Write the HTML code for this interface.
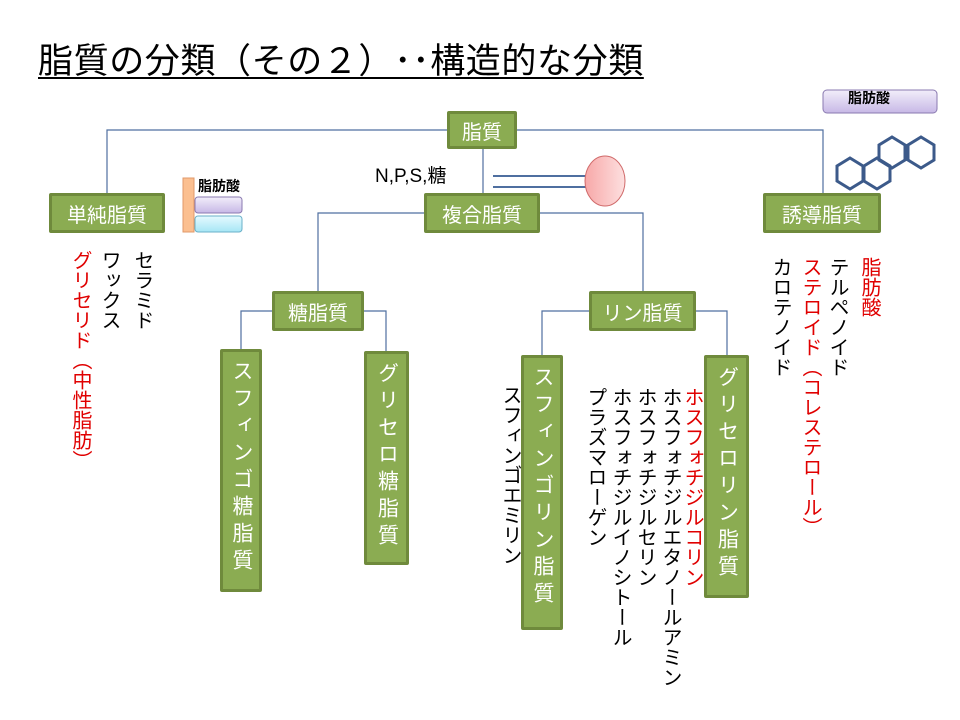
<!DOCTYPE html>
<html><head><meta charset="utf-8"><style>
body{margin:0;width:960px;height:720px;background:#fff;position:relative;overflow:hidden;font-family:"Liberation Sans","Noto Sans CJK JP",sans-serif}
.a{position:absolute}
.box{position:absolute;background:#8bac52;border:3px solid #6f8a3c;box-sizing:border-box;color:#fff;font-size:20px;display:flex;align-items:center;justify-content:center;border-radius:2px}
.vb{writing-mode:vertical-rl;letter-spacing:6px;font-size:21px;justify-content:flex-start;padding-top:8px}
.v{position:absolute;writing-mode:vertical-rl;font-size:20px;line-height:20px;width:24px;color:#000;white-space:nowrap}
.r{color:#e00000}
</style></head><body>
<div class="a" style="left:38px;top:33px;font-size:35px;letter-spacing:0.6px;text-decoration:underline;text-decoration-thickness:2px;text-underline-offset:4px;white-space:nowrap">脂質の分類（その２）･･構造的な分類</div>
<svg class="a" style="left:0;top:0" width="960" height="720">
<g stroke="#4f6fa0" stroke-width="1.2" fill="none">
<polyline points="107,193 107,130 823,130 823,193"/>
<line x1="483" y1="149" x2="483" y2="193"/>
<polyline points="424,213 318,213 318,291"/>
<polyline points="540,213 643,213 643,291"/>
<polyline points="272,311 241,311 241,349"/>
<polyline points="364,311 386,311 386,351"/>
<polyline points="589,311 542,311 542,355"/>
<polyline points="696,311 727,311 727,355"/>
</g>
<line x1="493" y1="176" x2="590" y2="176" stroke="#4f6fa0" stroke-width="2"/>
<line x1="493" y1="187" x2="590" y2="187" stroke="#4f6fa0" stroke-width="2"/>
<defs><linearGradient id="p" x1="0" x2="1"><stop offset="0" stop-color="#f7a8a8"/><stop offset="1" stop-color="#fde0e0"/></linearGradient>
<linearGradient id="pu" x1="0" y1="0" x2="0" y2="1"><stop offset="0" stop-color="#f2eefa"/><stop offset="1" stop-color="#c7b8e6"/></linearGradient>
<linearGradient id="cy" x1="0" y1="0" x2="0" y2="1"><stop offset="0" stop-color="#e6faff"/><stop offset="1" stop-color="#a6e6f5"/></linearGradient></defs>
<ellipse cx="605" cy="181" rx="20" ry="25" fill="url(#p)" stroke="#d06a6a" stroke-width="1"/>
<rect x="183" y="178" width="11" height="54" fill="#fbbf90" stroke="#e09a6a"/>
<rect x="195" y="197" width="47" height="16" rx="3" fill="url(#pu)" stroke="#8a7ab0"/>
<rect x="195" y="216" width="47" height="16" rx="3" fill="url(#cy)" stroke="#6ab0c8"/>
<rect x="823" y="90" width="114" height="23" rx="4" fill="url(#pu)" stroke="#8a7ab0"/>
<g stroke="#3c5a8a" stroke-width="3" fill="none">
<polygon points="850,158 863,166 863,181 850,189 837,181 837,166"/>
<polygon points="877,158 890,166 890,181 877,189 864,181 864,166"/>
<polygon points="892,137 905,145 905,160 892,168 879,160 879,145"/>
<polygon points="921,137 934,145 934,160 921,168 908,160 908,145"/>
</g>
</svg>
<div class="a" style="left:198px;top:176px;font-size:14px;font-weight:bold">脂肪酸</div>
<div class="a" style="left:848px;top:88px;font-size:14px;font-weight:bold">脂肪酸</div>
<div class="a" style="left:375px;top:161px;font-size:19px">N,P,S,糖</div>
<div class="box" style="left:447px;top:111px;width:70px;height:38px">脂質</div>
<div class="box" style="left:49px;top:193px;width:116px;height:40px">単純脂質</div>
<div class="box" style="left:424px;top:193px;width:116px;height:40px">複合脂質</div>
<div class="box" style="left:763px;top:193px;width:118px;height:40px">誘導脂質</div>
<div class="box" style="left:272px;top:291px;width:92px;height:40px">糖脂質</div>
<div class="box" style="left:589px;top:291px;width:107px;height:40px">リン脂質</div>
<div class="box vb" style="left:220px;top:349px;width:42px;height:243px">スフィンゴ糖脂質</div>
<div class="box vb" style="left:364px;top:351px;width:45px;height:214px">グリセロ糖脂質</div>
<div class="box vb" style="left:521px;top:355px;width:42px;height:275px">スフィンゴリン脂質</div>
<div class="box vb" style="left:704px;top:355px;width:45px;height:243px">グリセロリン脂質</div>
<div class="v" style="left:128px;top:250px">セラミド</div>
<div class="v" style="left:95px;top:250px">ワックス</div>
<div class="v r" style="left:66px;top:250px">グリセリド（中性脂肪）</div>
<div class="v r" style="left:855px;top:257px">脂肪酸</div>
<div class="v" style="left:823px;top:257px">テルペノイド</div>
<div class="v r" style="left:796px;top:257px">ステロイド（コレステロール）</div>
<div class="v" style="left:766px;top:257px">カロテノイド</div>
<div class="v" style="left:496px;top:385px">スフィンゴエミリン</div>
<div class="v r" style="left:678px;top:387px">ホスフォチジルコリン</div>
<div class="v" style="left:656px;top:387px">ホスフォチジルエタノールアミン</div>
<div class="v" style="left:631px;top:387px">ホスフォチジルセリン</div>
<div class="v" style="left:606px;top:387px">ホスフォチジルイノシトール</div>
<div class="v" style="left:581px;top:387px">プラズマローゲン</div>
</body></html>
